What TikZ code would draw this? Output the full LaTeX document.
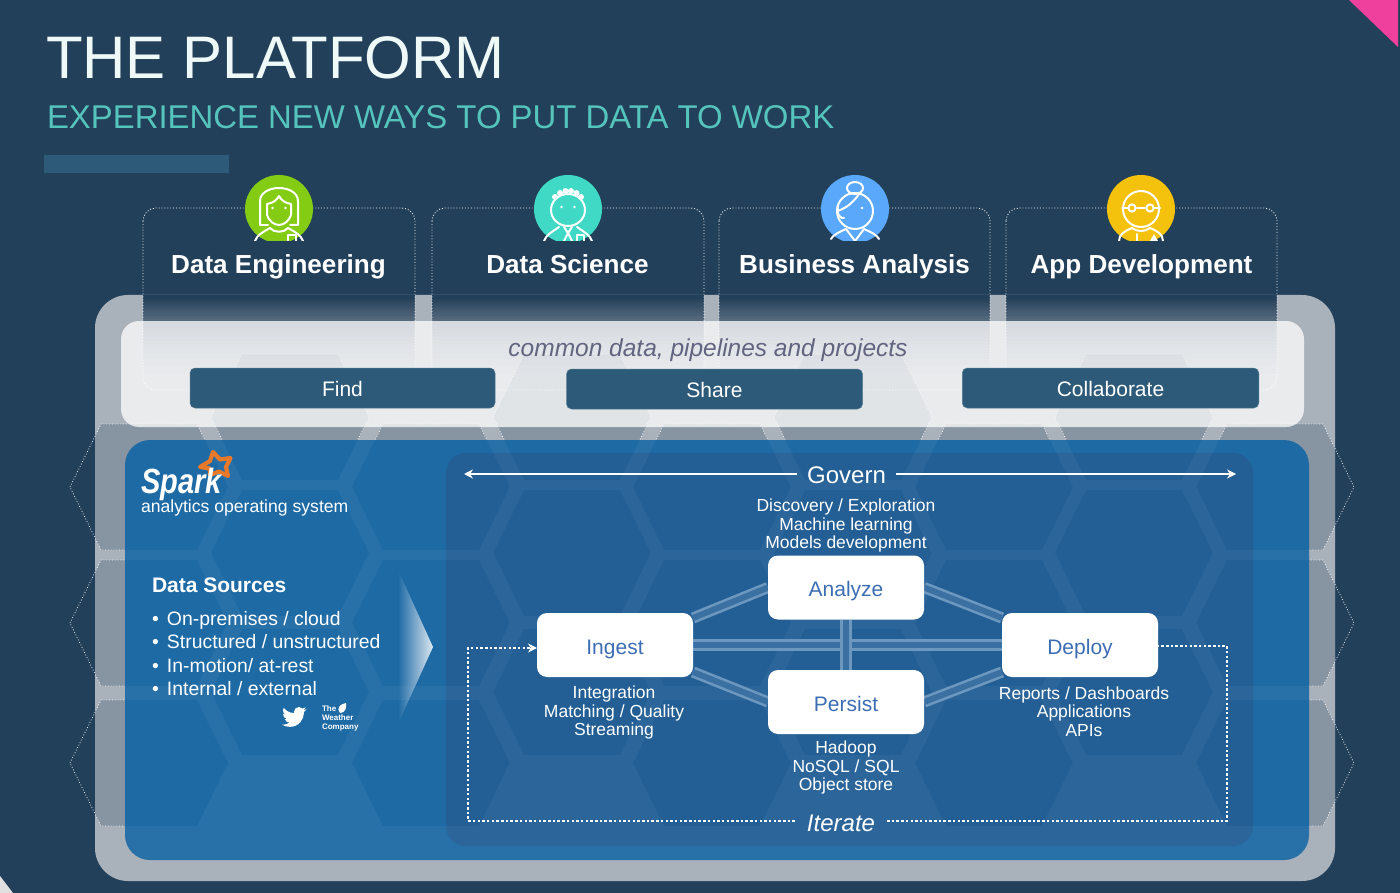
\documentclass[tikz,border=0pt]{standalone}
\usepackage{fontspec}
\setmainfont{Liberation Sans}
\usetikzlibrary{fadings,arrows.meta,calc}
\pgfdeclarelayer{front}
\pgfsetlayers{main,front}
\definecolor{bgc}{HTML}{23405A}
\definecolor{railc}{HTML}{A9B1BB}
\definecolor{bluec}{HTML}{1E6AA5}
\definecolor{innerc}{HTML}{235F95}
\definecolor{barc}{HTML}{2C5A78}
\definecolor{tealt}{HTML}{55C4BC}
\definecolor{nodet}{HTML}{3D6DB3}
\definecolor{italt}{HTML}{62657F}
\definecolor{linkc}{HTML}{6C97BF}
\definecolor{linkin}{HTML}{3A70A2}
\definecolor{pinkc}{HTML}{EE409C}
\definecolor{sparkc}{HTML}{E8792B}
\newcommand\myfs[1]{\fontsize{#1}{#1}\selectfont}
\newcommand\mylines[2]{\fontsize{#1}{#2}\selectfont}
\def\hexlist{149/487,149/623,149/763,431/487,431/623,431/763,712/487,712/623,712/763,994/487,994/623,994/763,1275/487,1275/623,1275/763,290/417,290/553,290/692,572/417,572/553,572/692,853/417,853/553,853/692,1134/417,1134/553,1134/692}
\tikzfading[name=arrowfade,left color=transparent!100,right color=transparent!15]
\tikzset{
  txt/.style={inner sep=0pt,outer sep=0pt,text=white},
  cardline/.style={draw=white,line width=.9pt,dotted,rounded corners=13pt,opacity=.95},
  hexline/.style={draw=white,line width=.8pt,dotted,opacity=.9},
  actbox/.style={fill=barc,draw=barc!80!white,line width=.5pt,rounded corners=5pt,text=white,inner sep=0pt,outer sep=0pt,font=\myfs{21},text height=17pt,text depth=0pt},
  stagebox/.style={fill=white,rounded corners=10pt,text=nodet,inner sep=0pt,outer sep=0pt,minimum width=156pt,minimum height=64pt,font=\myfs{21},text height=18pt,text depth=0pt},
  captxt/.style={txt,align=center,font=\mylines{17.5}{18.7}},
  rolet/.style={txt,anchor=base,font=\myfs{26.1}\bfseries},
  link/.style={draw=linkc,double=linkin,line width=2.6pt,double distance=6pt},
  itline/.style={draw=white,line width=2.8pt,dash pattern=on 2.5pt off 2.2pt},
  govline/.style={draw=white,line width=2pt,-{Stealth[length=9pt,width=9pt]}},
  iconline/.style={draw=white,line width=2pt,line cap=round,line join=round},
}
\newcommand\rolecard[2]{%
  \begin{scope}
    \clip (#1,280) [rounded corners=13pt] rectangle (#2,390);
    \foreach \k in {1,...,48}{
      \pgfmathsetmacro\yk{390-95*(1-0.94^\k)^0.625}
      \fill[bgc,opacity=.06] (#1,295) rectangle (#2,\yk);
    }
  \end{scope}
  \draw[cardline] (#1,208) rectangle (#2,390);
}
\begin{document}
\begin{tikzpicture}[x=1pt,y=-1pt]
\useasboundingbox (0,0) rectangle (1400,893);
\fill[bgc] (0,0) rectangle (1400,893);
% corner marks
\fill[pinkc] (1349,0) -- (1398,0) -- (1398,47) -- cycle;
\fill[black!12] (0,876) -- (13,893) -- (0,893) -- cycle;
% title
\node[txt,anchor=base west,text=white!90!tealt,font=\myfs{60}] (title) at (46,79) {THE PLATFORM};
\node[txt,anchor=base west,text=tealt,font=\myfs{32.9}] (subtitle) at (47,129) {EXPERIENCE NEW WAYS TO PUT DATA TO WORK};
\fill[barc] (44,155) rectangle (229,173);
% outer rail
\fill[railc] (95,295) [rounded corners=33pt] rectangle (1335,881);
\begin{scope}
  \clip (95,295) [rounded corners=33pt] rectangle (1335,881);
  \fill[bgc,opacity=.25] \foreach \c/\y in \hexlist {(\c-79,\y)--(\c-48,\y-63)--(\c+48,\y-63)--(\c+79,\y)--(\c+48,\y+63)--(\c-48,\y+63)--cycle};
\end{scope}
\foreach \c/\y in \hexlist {\draw[hexline] (\c-79,\y)--(\c-48,\y-63)--(\c+48,\y-63)--(\c+79,\y)--(\c+48,\y+63)--(\c-48,\y+63)--cycle;}
% role cards
\rolecard{143}{415}
\rolecard{432}{704}
\rolecard{719}{990}
\rolecard{1006}{1277}
% shared panel
\fill[white,opacity=.75] (121,321) [rounded corners=18pt] rectangle (1304,427);
% blue panel
\fill[bluec] (125,440) [rounded corners=25pt] rectangle (1309,860);
\fill[innerc] (446,453) [rounded corners=20pt] rectangle (1253,846);
\begin{scope}
  \clip (125,440) [rounded corners=25pt] rectangle (1309,860);
  \fill[white,opacity=.045,even odd rule] (100,420) rectangle (1330,880) \foreach \c/\y in \hexlist {(\c-79,\y)--(\c-48,\y-63)--(\c+48,\y-63)--(\c+79,\y)--(\c+48,\y+63)--(\c-48,\y+63)--cycle};
\end{scope}
% avatars
\foreach \cx/\colr in {279/84CC14,568/3FD9C5,855/5AA8FC,1141/F4C20D}{
  \definecolor{avc}{HTML}{\colr}
  \begin{scope}
    \clip (\cx-40,170) rectangle (\cx+40,241);
    \fill[avc] (\cx,209) circle[radius=34];
  \end{scope}
}
% icon: engineer
\begin{scope}[shift={(279,209)}]
  \clip (-34,-34) rectangle (34,32);
  \draw[iconline] (-19,16) -- (-19,-8) .. controls (-19,-16) and (-10,-21) .. (0,-21) .. controls (10,-21) and (19,-16) .. (19,-8) -- (19,16) -- (11,16);
  \draw[iconline] (-19,16) -- (-11,16);
  \draw[iconline] (-12,-5) .. controls (-6,-6) and (-2,-9) .. (0,-13) .. controls (2,-9) and (6,-6) .. (12,-5) -- (12,6) .. controls (10,12) and (5,16) .. (0,16) .. controls (-5,16) and (-10,12) .. (-12,6) -- cycle;
  \draw[iconline] (-24,32) .. controls (-22,26) and (-16,23) .. (-9,19) .. controls (-5,24) and (5,24) .. (9,19) .. controls (16,23) and (22,26) .. (24,32);
  \draw[iconline] (9,32) -- (9,26) -- (17,26) -- (17,32);
  \fill[white] (-6.5,-1) circle[radius=1.4] (6.5,-1) circle[radius=1.4];
\end{scope}
% icon: scientist
\begin{scope}[shift={(568,209)}]
  \clip (-34,-34) rectangle (34,32);
  \draw[iconline] (0,1) ellipse[x radius=17,y radius=16];
  \foreach \bx/\by in {-13/-12,-8/-16,-2.5/-18,3/-18,8.5/-16,13/-12}{\fill[white] (\bx,\by) circle[radius=3];}
  \draw[iconline] (-24,32) .. controls (-22,26) and (-16,23) .. (-9,18);
  \draw[iconline] (24,32) .. controls (22,26) and (16,23) .. (9,18);
  \draw[iconline] (-4,18) -- (0,24) -- (4,18) (0,24) -- (-4,32) (0,24) -- (4,32);
  \draw[iconline] (9,32) -- (9,26) -- (16,26) -- (16,32);
  \fill[white] (-6.5,-2) circle[radius=1.4] (6.5,-2) circle[radius=1.4];
\end{scope}
% icon: analyst
\begin{scope}[shift={(855,209)}]
  \clip (-34,-34) rectangle (34,32);
  \draw[iconline] (0,-21) ellipse[x radius=8,y radius=6];
  \draw[iconline] (0,2) ellipse[x radius=18,y radius=18];
  \draw[iconline] (-18,2) .. controls (-10,0) and (-2,-6) .. (4,-15);
  \draw[iconline] (-17,-4) .. controls (-19,6) and (-14,10) .. (-11,9);
  \draw[iconline] (-24,30) .. controls (-22,26) and (-16,23) .. (-9,20) -- (0,32) -- (9,20) .. controls (16,23) and (22,26) .. (24,30);
  \fill[white] (7,-1) circle[radius=1.4];
\end{scope}
% icon: developer
\begin{scope}[shift={(1141,209)}]
  \clip (-34,-34) rectangle (34,32);
  \draw[iconline] (0,0) ellipse[x radius=18,y radius=18];
  \draw[iconline] (-19,-1) -- (-13,-1) (-4,-1) -- (4,-1) (13,-1) -- (19,-1);
  \draw[iconline] (-9,-1) circle[radius=3.6] (9,-1) circle[radius=3.6];
  \draw[iconline] (-22,32) .. controls (-22,25) and (-16,22) .. (-9,19) .. controls (-4,23) and (4,23) .. (9,19) .. controls (16,22) and (22,25) .. (22,32);
  \draw[iconline] (-4,25) -- (-4,32);
  \fill[white] (9,32) -- (13,25) -- (17,32) -- cycle;
\end{scope}
% role titles
\node[rolet] (r1) at (278.5,274) {Data Engineering};
\node[rolet] (r2) at (567.5,274) {Data Science};
\node[rolet] (r3) at (854.5,274) {Business Analysis};
\node[rolet] (r4) at (1141.5,274) {App Development};
% shared
\node[txt,anchor=base,text=italt,font=\myfs{24.5}\itshape] (common) at (708,356) {common data, pipelines and projects};
\node[actbox,minimum width=305pt,minimum height=40pt] (find) at (342.5,388) {Find};
\node[actbox,minimum width=296pt,minimum height=40pt] (share) at (714.5,389) {Share};
\node[actbox,minimum width=296.5pt,minimum height=40pt] (collab) at (1110.5,388) {Collaborate};
% spark
\draw[sparkc,line width=4.2pt,line join=round] (213,452) -- (220,459.5) -- (230.5,458) -- (226,467) -- (228,476) -- (219,471.5) -- (210,475) -- (210,468.5) -- (200,467) -- (210,461) -- cycle;
\node[txt,anchor=base west,font=\myfs{35}\bfseries\itshape] (spark) at (141,493) {\scalebox{.83}[1]{Spark}};
\node[txt,anchor=base west,font=\myfs{17.6}] (aos) at (141,512) {analytics operating system};
% data sources
\node[txt,anchor=base west,font=\myfs{21}\bfseries] (ds) at (152,592.5) {Data Sources};
\node[txt,anchor=base west,font=\myfs{19.4}] (b1) at (152,625) {\makebox[15pt][l]{•}On-premises / cloud};
\node[txt,anchor=base west,font=\myfs{19.4}] (b2) at (152,648.5) {\makebox[15pt][l]{•}Structured / unstructured};
\node[txt,anchor=base west,font=\myfs{19.4}] (b3) at (152,672) {\makebox[15pt][l]{•}In-motion/ at-rest};
\node[txt,anchor=base west,font=\myfs{19.4}] (b4) at (152,695.5) {\makebox[15pt][l]{•}Internal / external};
% twitter
\begin{scope}[shift={(280.2,702.3)},scale=1.17]
\fill[white] (22.46,6) .. controls (21.69,6.35) and (20.86,6.58) .. (20,6.69) .. controls (20.88,6.16) and (21.56,5.32) .. (21.88,4.31) .. controls (21.05,4.81) and (20.13,5.16) .. (19.16,5.36) .. controls (18.37,4.5) and (17.26,4) .. (16,4) .. controls (13.65,4) and (11.73,5.92) .. (11.73,8.29) .. controls (11.73,8.63) and (11.77,8.96) .. (11.84,9.27) .. controls (8.28,9.09) and (5.11,7.38) .. (3,4.79) .. controls (2.63,5.42) and (2.42,6.16) .. (2.42,6.94) .. controls (2.42,8.43) and (3.17,9.75) .. (4.33,10.5) .. controls (3.62,10.5) and (2.96,10.3) .. (2.38,10) -- (2.38,10.03) .. controls (2.38,12.11) and (3.86,13.85) .. (5.82,14.24) -- (3.89,14.31) .. controls (4.4,16) and (6,17.25) .. (7.89,17.29) .. controls (6.45,18.43) and (4.6,19.13) .. (2.56,19.13) .. controls (2.22,19.13) and (1.88,19.11) .. (1.54,19.07) .. controls (3.44,20.29) and (5.7,21) .. (8.12,21) .. controls (16,21) and (20.33,14.46) .. (20.33,8.79) .. controls (20.33,8.6) and (20.33,8.42) .. (20.32,8.23) .. controls (21.16,7.63) and (21.88,6.87) .. (22.46,6) -- cycle;
\end{scope}
% weather company
\node[txt,anchor=north west,align=left,font=\mylines{8}{8.6}\bfseries] (twc) at (322,706) {The\\Weather\\Company};
\fill[white] (340,713) .. controls (336,708) and (340,704) .. (346,703) .. controls (347,708) and (345,713) .. (340,713) -- cycle;
% arrow
\fill[white,path fading=arrowfade] (398,570) -- (433,647) -- (398,724) -- cycle;
% stage nodes
\begin{pgfonlayer}{front}
\node[stagebox] (ingest) at (615,645) {Ingest};
\node[stagebox] (analyze) at (846,587.5) {Analyze};
\node[stagebox] (persist) at (846,702) {Persist};
\node[stagebox] (deploy) at (1080,645) {Deploy};
\end{pgfonlayer}
\draw[link] ($(ingest.north east)+(0,5)$) -- (analyze.west);
\draw[link] ($(ingest.south east)+(0,-5)$) -- (persist.west);
\draw[link] (ingest.east) -- (deploy.west);
\draw[link] (analyze.east) -- ($(deploy.north west)+(0,5)$);
\draw[link] (persist.east) -- ($(deploy.south west)+(0,-5)$);
\draw[link] (analyze.south) -- (persist.north);
% captions
\node[captxt] (capa) at (846,525.5) {Discovery / Exploration\\Machine learning\\Models development};
\node[captxt] (capi) at (614,712.5) {Integration\\Matching / Quality\\Streaming};
\node[captxt] (capp) at (846,767.5) {Hadoop\\NoSQL / SQL\\Object store};
\node[captxt] (capd) at (1084,711.5) {Reports / Dashboards\\Applications\\APIs};
% govern
\node[txt,font=\myfs{24},inner xsep=10pt] (govern) at (846.5,475) {Govern};
\coordinate (govl) at (464,474);
\coordinate (govr) at (1236,474);
\draw[govline] (govern.west |- govl) -- (govl);
\draw[govline] (govern.east |- govr) -- (govr);
% iterate
\node[txt,font=\myfs{24}\itshape,inner xsep=12pt] (iterate) at (841,823) {Iterate};
\coordinate (itbl) at (468,821);
\coordinate (ittl) at (468,648);
\coordinate (itin) at (537,648);
\coordinate (itbr) at (1227,821);
\coordinate (ittr) at (1227,646);
\draw[itline] (iterate.west |- itbl) -- (itbl) -- (ittl) -- (itin);
\draw[white,line width=1pt,-{Stealth[length=9pt,width=9pt]}] ($(itin)+(-7,0)$) -- (itin);
\draw[itline] (iterate.east |- itbr) -- (itbr) -- (ittr) -- (deploy.east |- ittr);
\end{tikzpicture}
\end{document}
